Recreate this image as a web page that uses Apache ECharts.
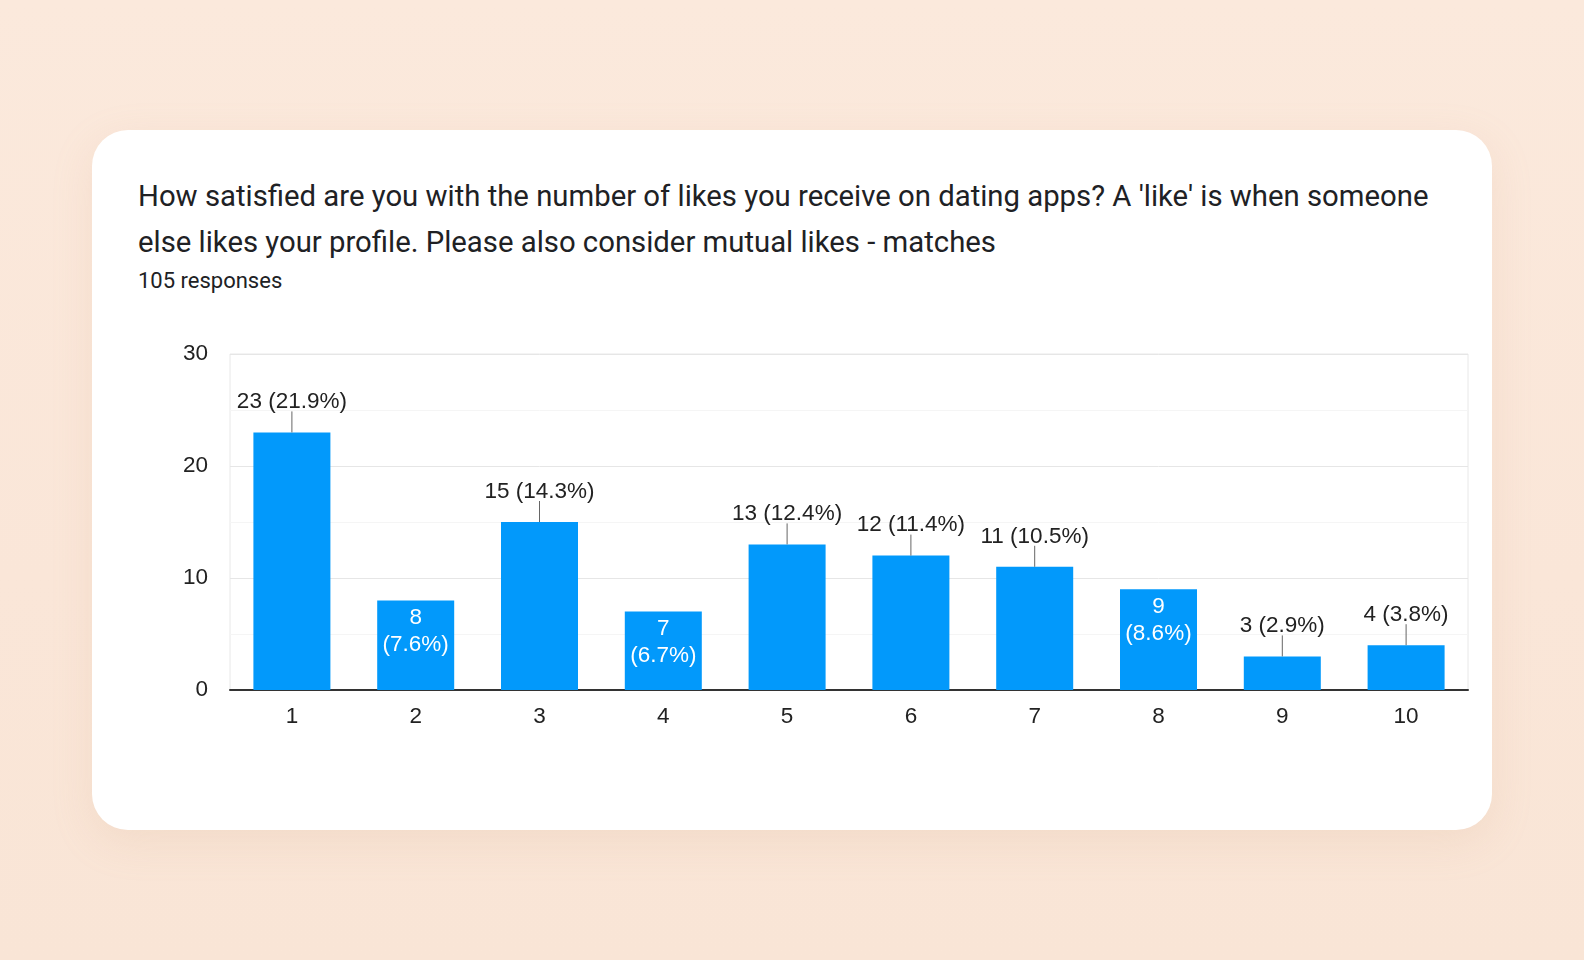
<!DOCTYPE html>
<html lang="en">
<head>
    <meta charset="UTF-8">
    <title>Likes satisfaction</title>
    <script src="https://cdn.jsdelivr.net/npm/echarts@6/dist/echarts.min.js"></script>
    <style>
        html, body { margin: 0; padding: 0; }
        body {
            width: 1584px; height: 960px; overflow: hidden; position: relative;
            background: linear-gradient(180deg, #fbe9dc 0%, #fae6d8 60%, #f9e5d6 100%);
            font-family: Roboto, "Noto Sans", sans-serif;
        }
        .card {
            position: absolute; left: 92px; top: 130px; width: 1400px; height: 700px;
            background: #fff; border-radius: 36px;
            box-shadow: 0 12px 40px rgba(214, 170, 140, 0.18);
        }
        .question {
            position: absolute; left: 138px; top: 173px;
            font-size: 29.3px; line-height: 46px; color: #202124; white-space: nowrap;
        }
        .responses {
            position: absolute; left: 138px; top: 268px;
            font-size: 22px; line-height: 26px; color: #202124;
        }
        #chart { position: absolute; left: 0; top: 0; width: 1584px; height: 960px; }
    </style>
</head>
<body>
<div class="card"></div>
<div class="question">How satisfied are you with the number of likes you receive on dating apps? A 'like' is when someone<br>else likes your profile. Please also consider mutual likes - matches</div>
<div class="responses">105 responses</div>
<div id="chart"></div>

<script>
    // answers on the 1-10 scale
    const categories = ['1', '2', '3', '4', '5', '6', '7', '8', '9', '10'];
    const counts = [23, 8, 15, 7, 13, 12, 11, 9, 3, 4];
    const percents = ['21.9', '7.6', '14.3', '6.7', '12.4', '11.4', '10.5', '8.6', '2.9', '3.8'];
    // bars whose label sits inside the bar
    const insideLabels = ['2', '4', '8'];
    const yTicks = [0, 10, 20, 30];

    const font = '"Liberation Sans", Arial, sans-serif';
    const barColor = '#0299fb';

    const barData = counts.map(function (v, i) {
        const inside = insideLabels.indexOf(categories[i]) >= 0;
        return {
            value: v,
            label: inside ? {
                position: 'insideTop',
                distance: 4,
                color: '#fff',
                lineHeight: 27,
                formatter: v + '\n(' + percents[i] + '%)'
            } : {
                position: 'top',
                distance: 19,
                color: '#222',
                formatter: v + ' (' + percents[i] + '%)'
            }
        };
    });

    // little leader lines above the bars with outside labels
    const leaderData = [];
    counts.forEach(function (v, i) {
        if (insideLabels.indexOf(categories[i]) < 0) leaderData.push([i, v]);
    });

    const option = {
        animation: false,
        grid: {
            left: 230, top: 354, width: 1238, height: 336,
            show: true, borderColor: '#e8e8e8', borderWidth: 1
        },
        xAxis: {
            type: 'category',
            data: categories,
            axisTick: { show: false },
            axisLine: { lineStyle: { color: '#333', width: 2 } },
            axisLabel: { fontFamily: font, fontSize: 22.5, color: '#222', margin: 15 }
        },
        yAxis: {
            type: 'value',
            min: yTicks[0],
            max: yTicks[yTicks.length - 1],
            interval: 10,
            axisLine: { show: false },
            axisTick: { show: false },
            axisLabel: { fontFamily: font, fontSize: 22.5, color: '#222', margin: 22 },
            splitLine: { lineStyle: { color: '#e6e6e6', width: 1 } },
            minorTick: { show: false, splitNumber: 2 },
            minorSplitLine: { show: true, lineStyle: { color: '#f5f5f5', width: 1 } }
        },
        series: [
            {
                type: 'bar',
                data: barData,
                barWidth: 77,
                itemStyle: { color: barColor },
                label: { show: true, fontFamily: font, fontSize: 22.5 },
                z: 2
            },
            {
                type: 'custom',
                data: leaderData,
                z: 3,
                renderItem: function (params, api) {
                    const p = api.coord([api.value(0), api.value(1)]);
                    return {
                        type: 'line',
                        shape: { x1: p[0], y1: p[1], x2: p[0], y2: p[1] - 21 },
                        style: { stroke: '#666', lineWidth: 1 }
                    };
                }
            }
        ]
    };

    const myChart = echarts.init(document.getElementById('chart'));
    myChart.setOption(option);
</script>
</body>
</html>
